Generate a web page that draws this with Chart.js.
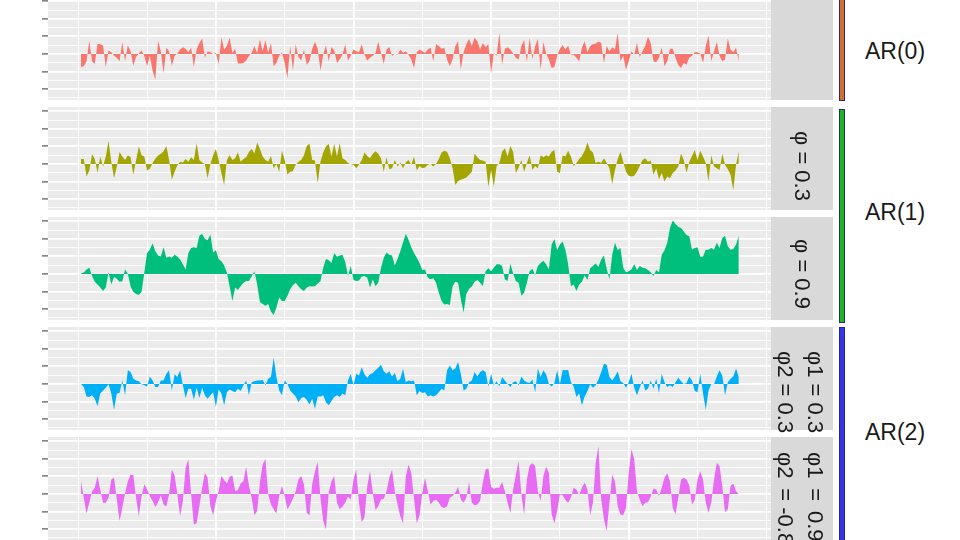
<!DOCTYPE html>
<html lang="en">
<head>
  <meta charset="UTF-8" />
  <title>AR processes</title>
  <script src="https://cdn.jsdelivr.net/npm/chart.js"></script>
  <style>
    html, body { margin: 0; padding: 0; background: #fff; }
    body { width: 960px; height: 540px; position: relative; overflow: hidden;
           font-family: "Liberation Sans", Arial, sans-serif; }
    .panel { position: absolute; left: 40px; width: 731px; height: 103.25px; }
    .strip { position: absolute; left: 771px; width: 62px; height: 103.25px; background: #D9D9D9; }
    .strip-text { position: absolute; writing-mode: vertical-rl; white-space: pre;
                  font-size: 22px; line-height: 30px; color: #1A1A1A; }
    .bar { position: absolute; left: 839px; width: 4px; border: 1px solid #27278A; }
    .group { position: absolute; left: 865px; font-size: 23px; color: #1A1A1A;
             line-height: 26px; transform: translateY(-50%); }
  </style>
</head>
<body>

  <!-- panels -->
  <div class="panel" style="top:-3px"><canvas id="p0"></canvas></div>
  <div class="panel" style="top:107px"><canvas id="p1"></canvas></div>
  <div class="panel" style="top:217px"><canvas id="p2"></canvas></div>
  <div class="panel" style="top:327px"><canvas id="p3"></canvas></div>
  <div class="panel" style="top:437px"><canvas id="p4"></canvas></div>

  <!-- facet strips -->
  <div class="strip" style="top:-3px"></div>
  <div class="strip" style="top:107px"></div>
  <div class="strip" style="top:217px"></div>
  <div class="strip" style="top:327px"></div>
  <div class="strip" style="top:437px"></div>
  <div class="strip-text" style="left:787px; top:131px">φ = 0.3</div>
  <div class="strip-text" style="left:787px; top:239px">φ = 0.9</div>
  <div class="strip-text" style="left:770px; top:351px">φ1 = 0.3
φ2 = 0.3</div>
  <div class="strip-text" style="left:770px; top:452px">φ1&#8198; = &#8198;0.9
φ2&#8198; = -0.8</div>

  <!-- group bars and labels -->
  <div class="bar" style="top:-3px; height:102px; background:#D4702F"></div>
  <div class="bar" style="top:109px; height:212px; background:#1DB81D"></div>
  <div class="bar" style="top:327px; height:220px; background:#3434E8"></div>
  <div class="group" style="top:51px">AR(0)</div>
  <div class="group" style="top:212px">AR(1)</div>
  <div class="group" style="top:432px">AR(2)</div>

  <script>
    // time index and axis breaks
    const time = Array.from({ length: 240 }, (_, i) => i + 1);
    const xBreaks = [0, 25, 50, 75, 100, 125, 150, 175, 200, 225, 250];
    const xMajor = [50, 100, 150, 200];
    const yBreaks = [-5, -4, -3, -2, -1, 0, 1, 2, 3, 4, 5, 6];
    const yMajor = [-4, -2, 0, 2, 4, 6];

    // AR(0): white noise
    const ar0 = [
      -1.5, -1.4, -0.85, 1.5, -0.85, -1.15, 1.15, 1.1, 0.95, -1.5,
      0.4, 0.2, -0.2, -0.45, -0.85, 1.35, -0.85, 1.0, 0.3, -1.35,
      -0.35, 0.05, 0.4, -0.25, -1.4, -0.2, -1.9, -2.95, 1.5, 0.3,
      -2.2, 0.7, 0.3, -1.35, -0.2, 0.05, 0.5, 0.75, 0.6, 0.2,
      0.7, -1.5, 0.5, 1.25, 1.75, -0.45, 0.3, 0.2, 0, 0.1,
      -1.15, 1.9, 0.5, 0.9, 1.85, 0.1, 0.6, -1.1, -1.1, -1.05,
      -0.75, -0.25, 0.1, 0.9, 0.1, 1.65, 0.3, 1.6, 0.1, 1.25,
      -1.4, -1.05, -0.2, 0.2, -1.05, -2.75, 0.9, -1.9, 1.1, -0.35,
      -0.75, 0.5, -1.25, -0.85, 0.6, 1.4, 0.6, -1.9, -0.1, 1.0,
      -0.85, 0.8, 0.4, -1.05, -0.6, -0.1, 1.1, -0.75, -0.2, 0.5,
      0.3, 0.2, 1.1, -0.1, -0.75, -0.45, -0.2, 0.1, 1.4, 0.1,
      -1.15, 0.5, 0.8, -0.25, 0.05, -0.1, 0.5, 0.1, 0.3, -0.1,
      -0.65, -1.6, 0.2, 0.5,
      0.3, 0.1, 0.5, 0.7, -0.85, 1.1, 0.9, 0.6, 0.7, -0.65,
      -1.4, -0.6, 0.9, 1.45, -1.8, 0.2, 1.1, 1.7, 0.9, 1.85,
      1.45, 0.5, 1.25, 0.8, 1.1, -2.25, 0.1, -0.2, 2.4, -1.25,
      0.6, 0.75, 0.5, 0.05, -0.45, -0.65, 0.9, 1.6, -0.95, 1.85,
      -0.6, 0.9, 1.7, -1.8, 1.35, 0.05, -0.65, -1.6, -1.5, -0.2,
      0.6, 1.0, 0.5, 0.95, -0.1, -0.1, -0.45, -0.85, 0.7, 1.45,
      0.2, 0.9, 1.1, 1.2, 1.4, 1.25, -1.05, 0.9, 0.3, 0.75,
      0.5, 2.4, -0.85, -0.2, -1.8, -0.85, 0.3, -0.1, 1.25, -0.35,
      0.3, 0.9, 1.95, 1.25, -0.85, -0.95, -0.45, 0.75, -1.4, -0.85,
      0.6, 0.6, -0.45, -1.25, -1.6, -1.05, -1.25, -0.45, -0.2, 0.2,
      0.2, 0.05, -1.05, 0.9, 2.1, -0.85, 0.3, 1.35, -0.2, -0.85,
      -0.65, 1.75, 0.5, 0.2, 0.7, -0.9
    ];

    // AR(1), phi = 0.3
    const ar1Low = [
      0.55, 0.55, -1.45, -0.75, 1.1, 0.55, -1.0, 0.85, -0.3, 0.85,
      2.65, 0.25, -1.65, -0.3, 1.35, 0.85, 0.45, 1.0, 0.75, -1.25,
      0.4, 2.0, 1.0, 0.85, -0.75, -0.55, 0.1, 0.6, 0.95, 1.15,
      1.45, 2.05, 0.45, -1.8, -0.9, -0.15, 0.25, 0.15, 0.55, 0.25,
      0.75, 0.45, 2.35, 0.45, 0.15, 0, -1.65, 0, 1.0, 1.7,
      0.45, -1.05, -2.4, 0.45, 1.0, 0.45, 0.65, 1.3, 0.25, 0.55,
      0.75, 1.35, 1.7, 1.2, 2.45, 1.7, 0.85, 0.45, 0.25, 0.9,
      -0.5, 0, -0.9, 1.5, 0.45, -1.2, -0.9, -0.8, -0.1, 0.25,
      0.45, 1.0, 2.05, 2.3, 0.45, 0.4, -2.2, 0.25, 1.3, 2.0,
      2.3, 0.85, 2.3, 0.85, 2.35, 0.65, 0.45, 0.1, -0.05, -0.1,
      -0.5, -0.1, 0.45, 1.3, 0.9, 0.65, 1.15, 1.45, 1.15, 0.65,
      -0.9, 0.75, -0.6, -0.5, 0.45, -0.3, 0.15, -0.5, 0.15, 0.45,
      -0.1, 0.85, -0.75, -0.25, -0.5, -0.4, -0.1, 0, -0.3, 0,
      0.55, 1.3, 1.5, 1.4, 0.65, -0.5, -2.4, -1.95, -1.8, -1.7,
      -1.55, -1.25, -0.9, 1.15, 0.75, 0.45, 0.4, 0.25, -2.65, -0.7,
      -2.6, -0.25, 0.1, 1.4, 1.8, 0.85, 2.05, 1.4, -1.05, -0.4,
      0.45, -0.9, 0.1, 1.0, -0.7, -0.25, -0.5, 1.0, 0.75, 1.0,
      0.85, 1.4, 1.6, -0.9, -1.05, 1.0, 0.85, 1.5, 0.85, -0.25,
      0.1, 0.55, 0.9, 1.5, 2.45, 1.6, 1.3, 0.1, 0.25, 0.1,
      0.65, 0.1, -0.5, -2.3, -0.7, 0.55, 1.4, 0.25, -0.9, -1.35,
      -1.45, -1.35, -0.9, -0.25, 0.45, 0.65, 0.25, 0.4, -1.25, -0.5,
      -1.75, -1.05, -2.0, -1.45, -1.65, -1.05, -0.75, -0.3, 1.2, 0.45,
      -1.0, 0.25, 0.9, 1.6, 0.45, 1.5, 0.85, 0.1, -2.0, 1.0,
      -0.3, -0.5, -0.7, 1.15, -0.1, -0.6, -1.25, -3.0, -0.1, 1.5
    ];

    // AR(1), phi = 0.9
    const ar1High = [
      0.05, 0.15, 0.5, 0.7, -0.25, -0.9, -1.2, -1.55, -1.95, -1.55,
      0.2, -1.2, -0.35, -0.55, -0.9, -0.85, 0.5, 0.05, -1.45, -2.05,
      -2.3, -2.4, -2.05, 0.15, 2.4, 2.75, 3.5, 2.6, 2.1, 2.0,
      3.05, 1.85, 2.0, 1.85, 2.2, 2.0, 1.65, 1.1, 0.5, 2.4,
      2.95, 3.05, 2.95, 4.35, 4.6, 4.0, 3.85, 4.5, 2.45, 2.7,
      1.7, 1.45, 0.95, 0.15, -1.45, -3.1, -1.55, -1.85, -1.4, -1.0,
      -0.8, -0.8, -0.3, 0.3, -1.2, -3.2, -3.45, -3.65, -3.45, -4.3,
      -4.7, -3.85, -2.7, -3.1, -3.1, -2.5, -1.75, -1.3, -1.0, -1.4,
      -1.75, -1.95, -1.55, -1.4, -1.45, -1.4, -1.1, -0.85, 0.7, 1.7,
      1.55, 1.25, 2.4, 1.95, 2.1, 2.2, 1.35, -0.25, 0.9, -0.7,
      -0.8, -0.75, -0.3, -0.25, -0.45, -1.55, -0.6, -1.4, -1.0, 0.7,
      1.85, 2.45, 2.2, 2.1, 0.95, 1.7, 2.6, 3.6, 4.6, 3.9,
      3.05, 2.4, 1.85, 1.25, 0.45, 0.5, -0.45, -0.6, -0.5, -1.0,
      -2.15, -3.1, -3.5, -3.45, -3.55, -1.4, -0.9, -1.0, -2.9, -4.4,
      -2.3, -1.7, -1.45, -0.9, -0.7, -1.0, -1.4, 0.3, 0.65, 0.3,
      0.7, 1.1, 1.1, 0.9, -0.6, -0.8, 1.2, 0.05, -0.8, -1.0,
      -2.5, -2.15, -1.0, 0.3, 0.6, -0.15, 0.9, 1.25, 1.5, 1.1,
      0.5, 3.35, 4.0, 2.7, 3.35, 3.7, 2.75, 1.1, -1.4, -1.2,
      -1.95, -1.2, -0.9, -0.15, -0.7, 0.65, 0.9, 1.2, 0.8, 1.65,
      2.1, 0.6, -0.6, 2.2, 3.55, 2.7, 2.95, 0.7, 0.2, 0.3,
      0.5, 1.1, 0.45, 0.9, 0.7, 0.65, 0.45, 0.2, -0.25, 0.45,
      0.2, 2.2, 2.7, 3.55, 5.25, 6.1, 5.7, 5.4, 5.25, 4.85,
      4.45, 4.3, 2.75, 2.95, 3.05, 1.95, 2.0, 2.75, 2.75, 2.95,
      2.75, 3.55, 2.95, 4.1, 4.35, 3.15, 2.75, 2.85, 3.35, 4.35
    ];

    // AR(2), phi1 = 0.3, phi2 = 0.3
    const ar2Pos = [
      0, -0.35, -1.45, -1.5, -1.3, -1.7, -2.55, -1.1, -0.75, -0.45,
      -0.05, -1.1, -2.95, -1.1, -1.05, 0.4, -1.3, 1.55, 1.35, 0.6,
      0.4, 0.3, -0.05, -0.15, -0.3, 0.85, 0.4, -0.35, -0.35, 0.4,
      0.4, 1.15, 1.55, -0.75, 1.1, 0.8, 1.55, -0.15, -1.6, -0.55,
      -0.55, -1.8, -0.45, -1.6, -0.45, -1.3, -1.7, -1.3, -0.95, -2.65,
      -0.65, -1.1, -2.45, -0.95, -0.65, -0.8, -0.95, -0.55, -0.8, -0.15,
      0.4, -1.3, 0.2, 0.3, 0.4, 0.4, 0.45, -0.15, 0.6, 0.8,
      3.0, 0.8, -0.75, -1.3, 0.4, 0, -0.75, -1.1, -1.45, -2.1,
      -1.6, -1.5, -1.8, -2.35, -1.7, -2.85, -1.45, -1.45, -1.3, -2.1,
      -2.45, -1.95, -1.5, -1.3, -1.5, -1.1, -1.3, 0.4, 1.15, -0.15,
      1.15, 0.95, 1.9, 1.1, 0.7, 1.1, 1.25, 1.55, 1.85, 2.2,
      1.45, 1.15, 1.45, 0.85, 1.25, 0.3, 0.6, 1.75, 0.2, 0.4,
      0.3, 0.4, -1.3, -0.8, -1.05, -0.95, -1.45, -1.3, -1.45, -1.3,
      -0.95, -0.55, -0.75, 1.55, 2.1, 1.55, 1.75, 2.5, 1.15, -0.75,
      -0.55, 0.2, 0.4, 1.35, 0.85, 1.35, 1.55, 1.35, -0.3, 1.15,
      -0.15, 0.3, -0.3, 0.8, 0.4, 0, -0.35, 0.2, 0.3, -0.15,
      0.85, 0.4, 0.2, 0.1, 0.5, -0.95, 1.75, 0.8, 1.55, 1.1,
      0, -0.3, 0.1, 1.55, -0.05, 1.6, 1.55, 1.6, 0.2, -0.3,
      -1.5, -1.1, -2.45, -1.45, -0.8, -0.05, -0.45, -0.15, 0.5, 1.35,
      2.3, 2.2, 0.8, 0.4, 0.85, 1.45, 0.3, 0.1, -0.45, 0.2,
      1.15, -0.45, -1.3, -0.45, 0.4, -0.75, -0.55, 0.4, -0.55, 0.6,
      -1.05, 1.15, 0.2, -0.35, -0.15, -0.35, 0.2, 0.7, 0.3, 0,
      0.1, 0.85, 0.4, -0.8, -0.95, 1.15, -1.1, -2.95, -0.75, 0,
      -0.05, 0.85, 1.55, 0.95, -1.3, 0.2, 0.6, 0.85, 1.75, 0.8
    ];

    // AR(2), phi1 = 0.9, phi2 = -0.8
    const ar2Osc = [
      1.45, -0.45, -2.25, -1.0, 0.3, 0.7, 2.05, 0.45, -1.0, -1.0,
      -0.45, 1.65, 1.85, -0.65, -3.1, -1.6, 0.05, 1.45, 2.2, 2.15,
      -0.45, -2.55, -0.25, 1.1, 0.5, -0.25, -0.8, -1.5, -0.95, -0.15,
      -1.2, -1.45, -0.05, 2.8, 2.1, -0.05, -2.55, -0.8, 3.0, 3.95,
      -0.05, -3.5, -3.35, -1.45, 0.7, 2.4, 1.85, -1.4, -2.45, -0.8,
      0.3, 2.05, 1.6, 1.2, 1.95, 2.1, 0.3, 0.45, 1.2, 1.45,
      3.1, 0.95, -0.45, -2.45, -1.95, 1.3, 3.35, 4.0, -0.05, -1.2,
      -1.75, -2.25, -0.25, 0.9, -0.25, -1.75, -1.2, -0.55, 0.3, 1.65,
      2.05, 1.1, -2.15, -2.45, 1.1, 2.6, 3.65, -0.45, -3.1, -4.05,
      0.15, 1.45, 2.05, -1.0, -1.75, -1.45, -1.0, -0.3, -0.65, 1.65,
      2.8, -1.0, -3.2, -2.7, 0.9, 2.6, 0.15, -1.85, -1.4, -0.65,
      -0.55, 0.3, 1.85, 2.8, 0.3, -1.2, -2.55, -3.35, 2.0, 3.35,
      2.4, -0.6, -3.35, -2.45, 0.15, 1.85, 0.3, -1.2, -0.8, -0.65,
      -1.0, -1.5, -1.6, -1.4, -0.45, -0.25, 0.15, 0.8, -0.65, -1.0,
      -0.45, 1.35, -1.0, -1.3, -1.2, -0.8, 1.35, 2.8, 2.9, 0.8,
      0.6, 0.7, 0.7, 1.35, 0.3, -1.0, -2.15, 0.5, 2.2, 3.75,
      -0.05, -2.4, 1.65, 3.25, 3.5, 3.2, 0.3, -0.8, 2.05, 3.1,
      2.4, -2.35, -3.35, -1.95, -0.05, -0.15, -0.7, -1.0, -0.45, 0.7,
      0.5, -0.15, 0.7, 1.3, 0.5, -2.45, -1.0, 3.55, 5.45, -0.65,
      -2.9, -4.25, -1.0, 2.2, 1.45, -1.4, -2.35, -2.45, -1.6, 2.4,
      5.1, 3.95, 0.3, -0.65, -1.4, -1.0, -0.95, -0.3, 0.6, 0.5,
      -0.25, 0.7, 1.85, 2.35, 1.45, -1.6, -2.35, -0.45, 1.65, 1.85,
      1.65, 0.95, -1.2, -0.7, 1.65, 2.6, 1.65, -1.0, -2.15, -1.0,
      1.65, 3.55, 3.2, 0.9, -2.1, -1.75, 0.9, 1.2, 0.3, -0.05
    ];

    const panelBg = {
      id: 'panelBg',
      beforeDraw(chart) {
        const { ctx, chartArea: a } = chart;
        ctx.save();
        ctx.fillStyle = '#EBEBEB';
        ctx.fillRect(a.left, a.top, a.width, a.height);
        ctx.restore();
      }
    };

    function makePanel(id, values, color) {
      return new Chart(document.getElementById(id), {
        type: 'line',
        data: {
          datasets: [{
            data: values.map((v, i) => ({ x: time[i], y: v })),
            fill: 'origin',
            backgroundColor: color,
            borderColor: 'rgba(0,0,0,0)',
            borderWidth: 0,
            pointRadius: 0,
            tension: 0
          }]
        },
        options: {
          responsive: true,
          maintainAspectRatio: false,
          animation: false,
          layout: { padding: 0 },
          plugins: { legend: { display: false }, tooltip: { enabled: false } },
          scales: {
            x: {
              type: 'linear', min: -11, max: 251.7,
              afterBuildTicks: s => { s.ticks = xBreaks.map(v => ({ value: v })); },
              afterFit: s => { s.height = 0; },
              ticks: { display: false },
              border: { display: false },
              grid: {
                color: '#FFFFFF',
                drawTicks: false,
                lineWidth: c => (c.tick && xMajor.includes(c.tick.value)) ? 1.8 : 0.9
              }
            },
            y: {
              min: -5.3, max: 6.5,
              afterBuildTicks: s => { s.ticks = yBreaks.map(v => ({ value: v })); },
              afterFit: s => { s.width = 8; },
              ticks: { display: false },
              border: { display: false },
              grid: {
                color: '#FFFFFF',
                lineWidth: c => (c.tick && yMajor.includes(c.tick.value)) ? 1.8 : 0.9,
                tickLength: 6,
                tickWidth: 1.1,
                tickColor: c => (c.tick && yMajor.includes(c.tick.value)) ? '#444444' : 'rgba(0,0,0,0)'
              }
            }
          }
        },
        plugins: [panelBg]
      });
    }

    makePanel('p0', ar0, '#F8766D');
    makePanel('p1', ar1Low, '#A3A500');
    makePanel('p2', ar1High, '#00BF7D');
    makePanel('p3', ar2Pos, '#00B0F6');
    makePanel('p4', ar2Osc, '#E76BF3');
  </script>
</body>
</html>
